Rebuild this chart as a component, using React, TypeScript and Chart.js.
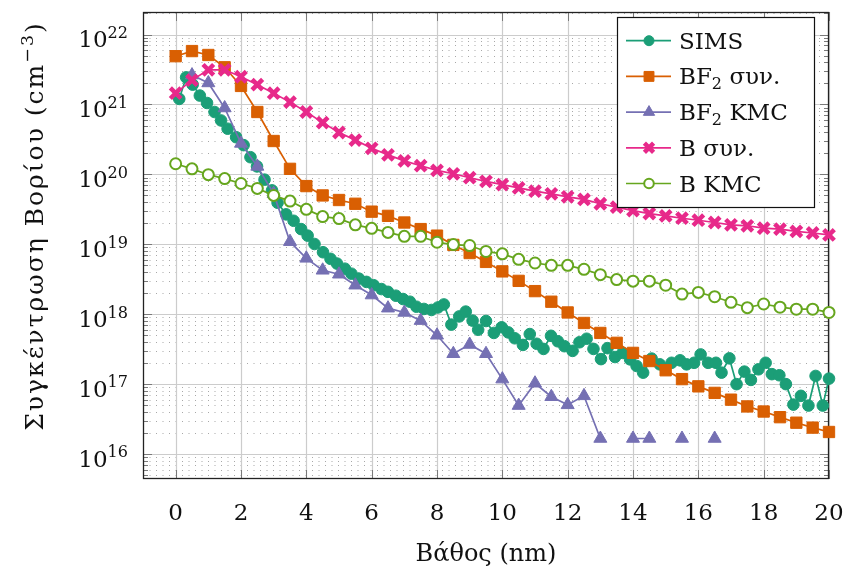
import React, { useEffect, useRef } from 'react';
import { Chart, registerables } from 'chart.js';
import { drawPoint } from 'chart.js/helpers';

Chart.register(...registerables);

const FONT = "'DejaVu Serif', 'Liberation Serif', serif";

// ---------- data ----------
const xTickValues = [0, 2, 4, 6, 8, 10, 12, 14, 16, 18, 20];
const yDecadeExponents = [16, 17, 18, 19, 20, 21, 22];

const seriesLabels = ['SIMS', 'BF₂ συν.', 'BF₂ KMC', 'B συν.', 'B KMC'];

const simsDepth = [
  0.11, 0.32, 0.52, 0.74, 0.96, 1.19, 1.39, 1.59, 1.85, 2.08,
  2.29, 2.49, 2.72, 2.95, 3.12, 3.38, 3.61, 3.84, 4.04, 4.25,
  4.51, 4.74, 4.94, 5.18, 5.38, 5.61, 5.84, 6.06, 6.30, 6.50,
  6.74, 6.96, 7.17, 7.37, 7.60, 7.83, 8.03, 8.21, 8.44, 8.68,
  8.88, 9.09, 9.26, 9.50, 9.74, 9.98, 10.18, 10.38, 10.63, 10.84,
  11.05, 11.26, 11.49, 11.70, 11.90, 12.15, 12.36, 12.58, 12.79, 13.02,
  13.22, 13.45, 13.68, 13.91, 14.11, 14.31, 14.57, 14.82, 15.18, 15.44,
  15.64, 15.87, 16.07, 16.30, 16.54, 16.71, 16.95, 17.17, 17.41, 17.61,
  17.84, 18.06, 18.25, 18.48, 18.68, 18.91, 19.14, 19.37, 19.59, 19.81,
  20.0,
];
const simsConc = [
  1.2e21, 2.44e21, 1.92e21, 1.34e21, 1.05e21, 7.8e20, 5.9e20, 4.5e20, 3.4e20, 2.62e20,
  1.76e20, 1.3e20, 8.4e19, 5.9e19, 3.93e19, 2.68e19, 2.17e19, 1.65e19, 1.33e19, 1.01e19,
  7.7e18, 6.2e18, 5.3e18, 4.48e18, 3.8e18, 3.23e18, 2.9e18, 2.6e18, 2.29e18, 2.09e18,
  1.84e18, 1.65e18, 1.51e18, 1.28e18, 1.19e18, 1.15e18, 1.25e18, 1.38e18, 7.1e17, 9.3e17,
  1.09e18, 8.1e17, 6.0e17, 8.0e17, 5.4e17, 6.5e17, 5.5e17, 4.53e17, 3.64e17, 5.2e17,
  3.78e17, 3.19e17, 4.91e17, 4.1e17, 3.49e17, 2.99e17, 3.97e17, 4.46e17, 3.19e17, 2.28e17,
  3.27e17, 2.44e17, 2.8e17, 2.26e17, 1.82e17, 1.46e17, 2.32e17, 1.92e17, 2.02e17, 2.19e17,
  1.92e17, 2.02e17, 2.66e17, 2.02e17, 2.02e17, 1.46e17, 2.34e17, 1.0e17, 1.51e17, 1.15e17,
  1.63e17, 2.02e17, 1.39e17, 1.34e17, 1.0e17, 5.1e16, 6.8e16, 4.94e16, 1.31e17, 4.94e16,
  1.2e17,
];

const simDepth = [
  0, 0.5, 1, 1.5, 2, 2.5, 3, 3.5, 4, 4.5,
  5, 5.5, 6, 6.5, 7, 7.5, 8, 8.5, 9, 9.5,
  10, 10.5, 11, 11.5, 12, 12.5, 13, 13.5, 14, 14.5,
  15, 15.5, 16, 16.5, 17, 17.5, 18, 18.5, 19, 19.5,
  20,
];
const bf2SimConc = [
  4.9e21, 5.8e21, 5.1e21, 3.4e21, 1.84e21, 7.8e20, 3.0e20, 1.2e20, 6.8e19, 5.0e19,
  4.3e19, 3.8e19, 2.93e19, 2.55e19, 2.05e19, 1.65e19, 1.33e19, 9.8e18, 7.5e18, 5.6e18,
  4.1e18, 3.0e18, 2.14e18, 1.51e18, 1.06e18, 7.5e17, 5.4e17, 3.9e17, 2.8e17, 2.14e17,
  1.58e17, 1.18e17, 9.3e16, 7.5e16, 6.0e16, 4.8e16, 4.06e16, 3.37e16, 2.81e16, 2.39e16,
  2.07e16,
];
const bf2KmcConc = [
  null, 2.63e21, 2.03e21, 8.9e20, 2.77e20, 1.3e20, 5.3e19, 1.09e19, 6.3e18, 4.25e18,
  3.73e18, 2.6e18, 1.88e18, 1.22e18, 1.06e18, 8.1e17, 5.0e17, 2.72e17, 3.69e17, 2.72e17,
  1.18e17, 4.94e16, 1.03e17, 6.6e16, 5.06e16, 6.8e16, 1.67e16, null, 1.67e16, 1.67e16,
  null, 1.67e16, null, 1.67e16, null, null, null, null, null, null,
  null,
];
const bSimConc = [
  1.45e21, 2.23e21, 3.13e21, 3.13e21, 2.49e21, 1.92e21, 1.45e21, 1.08e21, 7.8e20, 5.5e20,
  3.97e20, 3.09e20, 2.36e20, 1.9e20, 1.56e20, 1.33e20, 1.14e20, 1.02e20, 8.96e19, 7.96e19,
  7.13e19, 6.4e19, 5.75e19, 5.27e19, 4.78e19, 4.38e19, 3.8e19, 3.4e19, 3.03e19, 2.75e19,
  2.55e19, 2.36e19, 2.21e19, 2.05e19, 1.9e19, 1.84e19, 1.7e19, 1.65e19, 1.53e19, 1.45e19,
  1.36e19,
];
const bKmcConc = [
  1.42e20, 1.2e20, 9.9e19, 8.7e19, 7.4e19, 6.3e19, 5.0e19, 4.15e19, 3.16e19, 2.49e19,
  2.33e19, 1.9e19, 1.69e19, 1.48e19, 1.3e19, 1.3e19, 1.07e19, 9.9e18, 9.6e18, 7.9e18,
  7.3e18, 6.1e18, 5.4e18, 5.0e18, 5.0e18, 4.39e18, 3.68e18, 3.13e18, 2.97e18, 2.97e18,
  2.6e18, 1.94e18, 2.05e18, 1.78e18, 1.48e18, 1.24e18, 1.4e18, 1.26e18, 1.18e18, 1.18e18,
  1.06e18,
];

const TEAL = '#1b9e77';
const ORANGE = '#d95f02';
const PURPLE = '#7570b3';
const PINK = '#e7298a';
const GREEN = '#66a61e';

type Seg = { t: string; s?: 'sup' | 'sub' };

function segsFromLabel(label: string): Seg[] {
  const out: Seg[] = [];
  let buf = '';
  for (const ch of label) {
    if (ch === '₂') {
      if (buf) out.push({ t: buf });
      buf = '';
      out.push({ t: '2', s: 'sub' });
    } else buf += ch;
  }
  if (buf) out.push({ t: buf });
  return out;
}

function drawRich(
  ctx: CanvasRenderingContext2D,
  segs: Seg[],
  x: number,
  y: number,
  size: number,
  align: 'left' | 'right' | 'center',
) {
  const small = size * 0.7;
  const widths = segs.map((sg) => {
    ctx.font = `${sg.s ? small : size}px ${FONT}`;
    return ctx.measureText(sg.t).width;
  });
  const total = widths.reduce((a, b) => a + b, 0);
  let cx = align === 'left' ? x : align === 'right' ? x - total : x - total / 2;
  ctx.textAlign = 'left';
  ctx.textBaseline = 'alphabetic';
  segs.forEach((sg, i) => {
    ctx.font = `${sg.s ? small : size}px ${FONT}`;
    const dy = sg.s === 'sup' ? -size * 0.4 : sg.s === 'sub' ? size * 0.22 : 0;
    ctx.fillText(sg.t, cx, y + dy);
    cx += widths[i];
  });
  return total;
}

export default function App() {
  const ref = useRef<HTMLCanvasElement>(null);

  useEffect(() => {
    const canvas = ref.current!;
    const toXY = (xs: number[], ys: (number | null)[]) => xs.map((x, i) => ({ x, y: ys[i] }));

    const common = { borderWidth: 1.7, clip: false as any, tension: 0, spanGaps: false };
    const datasets: any[] = [
      {
        ...common, label: seriesLabels[0], data: toXY(simsDepth, simsConc),
        borderColor: TEAL, backgroundColor: TEAL, pointBackgroundColor: TEAL, pointBorderColor: TEAL,
        pointStyle: 'circle', pointRadius: 5.8, pointBorderWidth: 1, order: 5,
      },
      {
        ...common, label: seriesLabels[1], data: toXY(simDepth, bf2SimConc),
        borderColor: ORANGE, backgroundColor: ORANGE, pointBackgroundColor: ORANGE, pointBorderColor: ORANGE,
        pointStyle: 'rect', pointRadius: 8, pointBorderWidth: 1, order: 4,
      },
      {
        ...common, label: seriesLabels[2], data: toXY(simDepth, bf2KmcConc),
        borderColor: PURPLE, backgroundColor: PURPLE, pointBackgroundColor: PURPLE, pointBorderColor: PURPLE,
        pointStyle: 'triangle', pointRadius: 7.5, pointBorderWidth: 1, order: 3,
      },
      {
        ...common, label: seriesLabels[3], data: toXY(simDepth, bSimConc),
        borderColor: PINK, backgroundColor: PINK, pointBackgroundColor: PINK, pointBorderColor: PINK,
        pointStyle: 'crossRot', pointRadius: 7.5, pointBorderWidth: 4.5, order: 2,
      },
      {
        ...common, label: seriesLabels[4], data: toXY(simDepth, bKmcConc),
        borderColor: GREEN, backgroundColor: '#ffffff', pointBackgroundColor: '#ffffff', pointBorderColor: GREEN,
        pointStyle: 'circle', pointRadius: 5.5, pointBorderWidth: 2, order: 1,
      },
    ];

    const pgfPlugin = {
      id: 'pgfDecor',
      beforeDatasetsDraw(chart: any) {
        const { ctx, chartArea: a, scales } = chart;
        const xs = scales.x;
        const ys = scales.y;
        ctx.save();
        // minor dotted y grid
        ctx.strokeStyle = '#a8a8a8';
        ctx.lineWidth = 1;
        ctx.setLineDash([1, 5.5]);
        const minorVals: number[] = [];
        for (let k = 15; k <= 22; k++) {
          for (let m = 2; m <= 9; m++) {
            const v = m * Math.pow(10, k);
            if (v > ys.min && v < ys.max) minorVals.push(v);
          }
        }
        minorVals.forEach((v) => {
          const py = Math.round(ys.getPixelForValue(v)) + 0.5;
          ctx.beginPath();
          ctx.moveTo(a.left, py);
          ctx.lineTo(a.right, py);
          ctx.stroke();
        });
        ctx.setLineDash([]);
        // major grid
        ctx.strokeStyle = '#cccccc';
        ctx.lineWidth = 1.2;
        xTickValues.forEach((v) => {
          const px = Math.round(xs.getPixelForValue(v)) + 0.5;
          ctx.beginPath();
          ctx.moveTo(px, a.top);
          ctx.lineTo(px, a.bottom);
          ctx.stroke();
        });
        yDecadeExponents.forEach((k) => {
          const py = Math.round(ys.getPixelForValue(Math.pow(10, k))) + 0.5;
          ctx.beginPath();
          ctx.moveTo(a.left, py);
          ctx.lineTo(a.right, py);
          ctx.stroke();
        });
        // tick marks (inside)
        ctx.strokeStyle = '#7a7a7a';
        ctx.lineWidth = 1;
        xTickValues.forEach((v) => {
          const px = Math.round(xs.getPixelForValue(v)) + 0.5;
          ctx.beginPath();
          ctx.moveTo(px, a.bottom);
          ctx.lineTo(px, a.bottom - 9);
          ctx.moveTo(px, a.top);
          ctx.lineTo(px, a.top + 9);
          ctx.stroke();
        });
        yDecadeExponents.forEach((k) => {
          const py = Math.round(ys.getPixelForValue(Math.pow(10, k))) + 0.5;
          ctx.beginPath();
          ctx.moveTo(a.left, py);
          ctx.lineTo(a.left + 9, py);
          ctx.moveTo(a.right, py);
          ctx.lineTo(a.right - 9, py);
          ctx.stroke();
        });
        minorVals.forEach((v) => {
          const py = Math.round(ys.getPixelForValue(v)) + 0.5;
          ctx.beginPath();
          ctx.moveTo(a.left, py);
          ctx.lineTo(a.left + 5, py);
          ctx.moveTo(a.right, py);
          ctx.lineTo(a.right - 5, py);
          ctx.stroke();
        });
        // frame
        ctx.strokeStyle = '#222222';
        ctx.lineWidth = 1.3;
        ctx.strokeRect(a.left + 0.5, a.top + 0.5, a.right - a.left - 1, a.bottom - a.top - 1);
        ctx.restore();
      },
      afterDraw(chart: any) {
        const { ctx, chartArea: a, scales } = chart;
        const xs = scales.x;
        const ys = scales.y;
        const size = 23;
        ctx.save();
        ctx.fillStyle = '#111111';
        // x tick labels
        ctx.font = `${size}px ${FONT}`;
        ctx.textAlign = 'center';
        ctx.textBaseline = 'alphabetic';
        xTickValues.forEach((v) => {
          ctx.fillText(String(v), xs.getPixelForValue(v), a.bottom + 41);
        });
        // y tick labels 10^k
        yDecadeExponents.forEach((k) => {
          const py = ys.getPixelForValue(Math.pow(10, k));
          drawRich(ctx, [{ t: '10' }, { t: String(k), s: 'sup' }], a.left - 15, py + 12.5, size, 'right');
        });
        // x title
        drawRich(ctx, [{ t: 'Βάθος (nm)' }], (a.left + a.right) / 2, 561, 24, 'center');
        // y title
        ctx.save();
        ctx.translate(43, 226);
        ctx.rotate(-Math.PI / 2);
        (ctx as any).letterSpacing = '2px';
        drawRich(ctx, [{ t: 'Συγκέντρωση Βορίου (cm' }, { t: '−3', s: 'sup' }, { t: ')' }], 0, 0, 25, 'center');
        (ctx as any).letterSpacing = '0px';
        ctx.restore();

        // legend
        const lx0 = 617, ly0 = 17, lx1 = 814, ly1 = 207;
        ctx.fillStyle = '#ffffff';
        ctx.fillRect(lx0, ly0, lx1 - lx0, ly1 - ly0);
        ctx.strokeStyle = '#111111';
        ctx.lineWidth = 1.2;
        ctx.strokeRect(lx0 + 0.5, ly0 + 0.5, lx1 - lx0, ly1 - ly0);
        const legendMarks = [
          { style: 'circle', r: 5, bw: 1, fill: TEAL, stroke: TEAL },
          { style: 'rect', r: 7, bw: 1, fill: ORANGE, stroke: ORANGE },
          { style: 'triangle', r: 6.5, bw: 1, fill: PURPLE, stroke: PURPLE },
          { style: 'crossRot', r: 6.5, bw: 4.5, fill: PINK, stroke: PINK },
          { style: 'circle', r: 4.8, bw: 2, fill: '#ffffff', stroke: GREEN },
        ];
        const lineCols = [TEAL, ORANGE, PURPLE, PINK, GREEN];
        chart.data.datasets.forEach((ds: any, i: number) => {
          const cy = 40.7 + i * 35.7;
          ctx.strokeStyle = lineCols[i];
          ctx.lineWidth = 1.7;
          ctx.beginPath();
          ctx.moveTo(626, cy);
          ctx.lineTo(671, cy);
          ctx.stroke();
          const m = legendMarks[i];
          ctx.fillStyle = m.fill;
          ctx.strokeStyle = m.stroke;
          ctx.lineWidth = m.bw;
          drawPoint(ctx, { pointStyle: m.style as any, rotation: 0, radius: m.r, borderWidth: m.bw }, 649, cy);
          ctx.fillStyle = '#111111';
          drawRich(ctx, segsFromLabel(ds.label), 679, cy + 8, size, 'left');
        });
        ctx.restore();
      },
    };

    const chart = new Chart(canvas, {
      type: 'line',
      data: { datasets },
      options: {
        responsive: false,
        animation: false,
        devicePixelRatio: 1,
        layout: { padding: { left: 0, top: 7, right: 19, bottom: 0 } },
        plugins: { legend: { display: false }, tooltip: { enabled: false } },
        scales: {
          x: {
            type: 'linear',
            min: -1,
            max: 20,
            grid: { display: false, drawTicks: false },
            border: { display: false },
            ticks: { display: false },
            afterFit: (s: any) => { s.height = 99; },
          },
          y: {
            type: 'logarithmic',
            min: 4.4e15,
            max: 2.1e22,
            grid: { display: false, drawTicks: false },
            border: { display: false },
            ticks: { display: false },
            afterFit: (s: any) => { s.width = 143; },
          },
        },
      } as any,
      plugins: [pgfPlugin],
    });
    return () => chart.destroy();
  }, []);

  return (
    <canvas
      ref={ref}
      width={848}
      height={578}
      style={{ position: 'absolute', left: 0, top: 0, width: 848, height: 578 }}
    />
  );
}
